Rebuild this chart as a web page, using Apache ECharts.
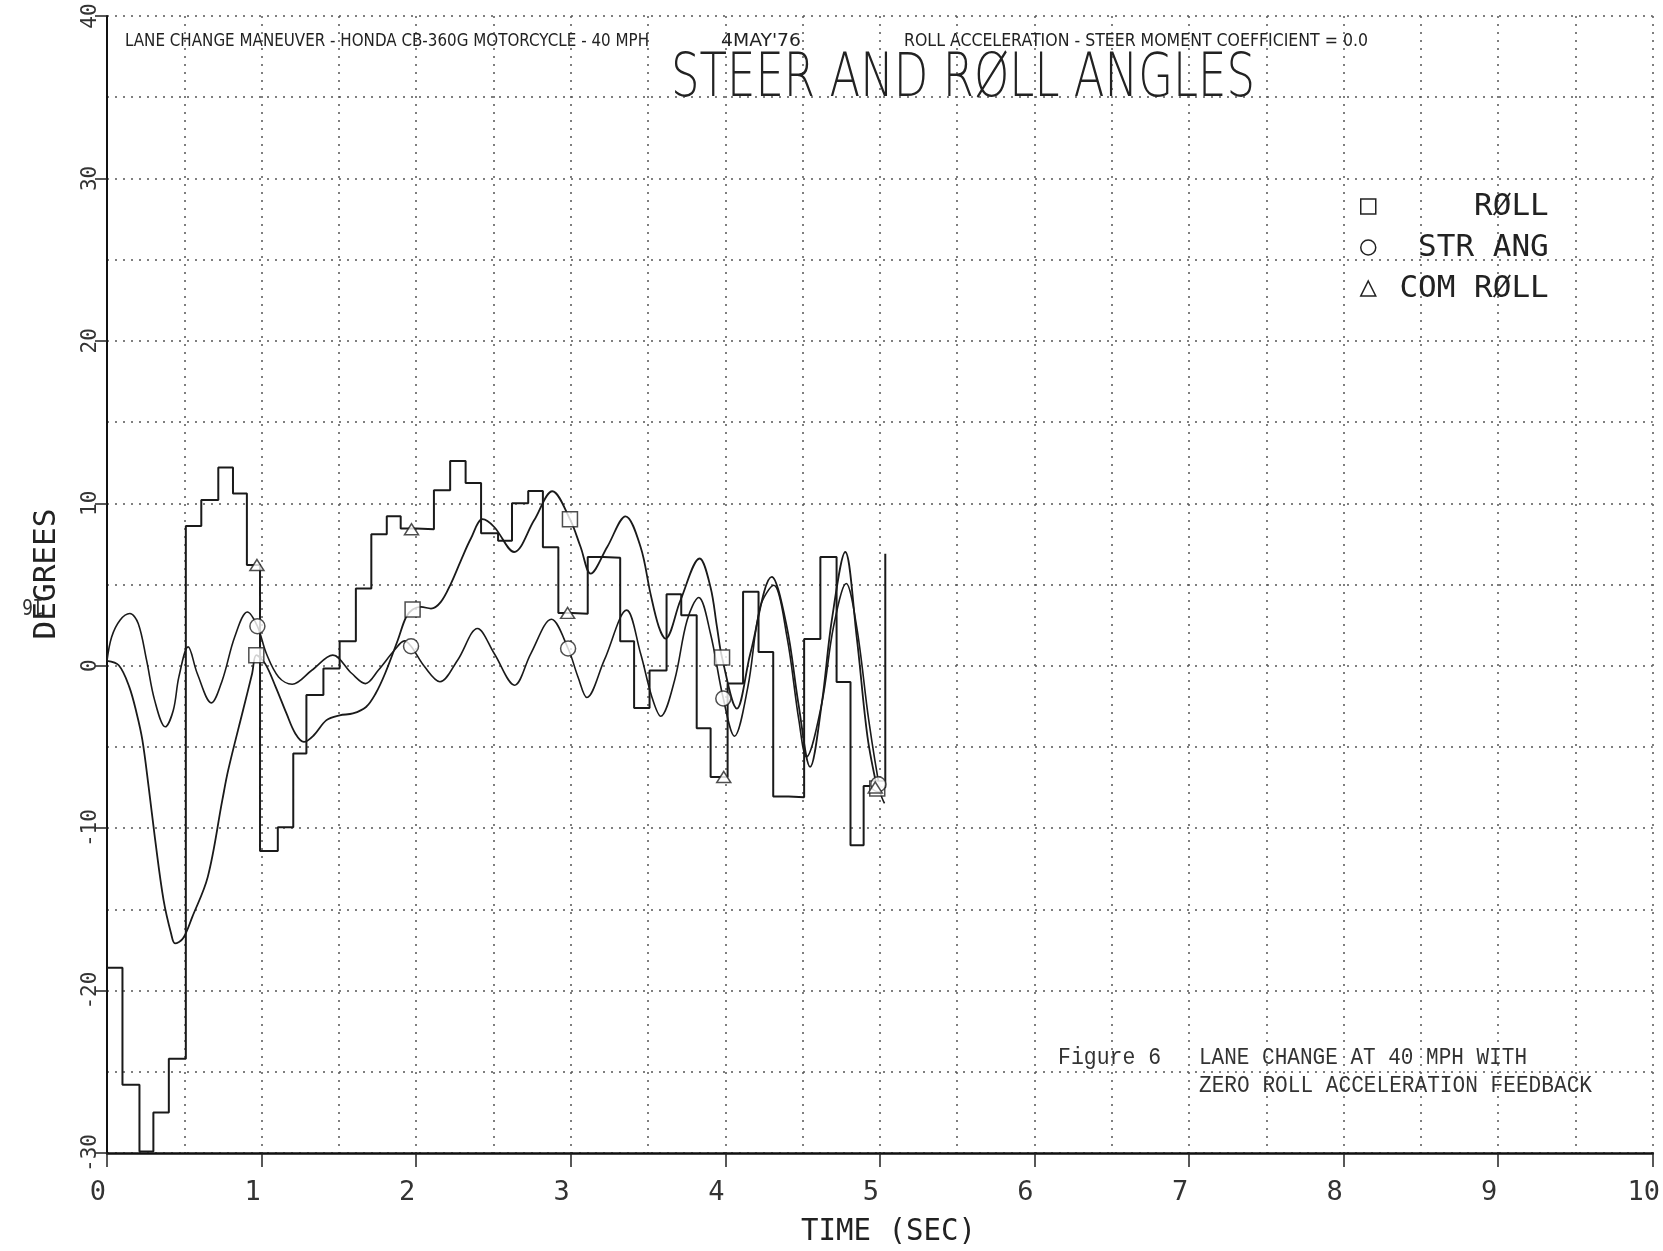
<!DOCTYPE html>
<html>
<head>
<meta charset="utf-8">
<title>Steer and Roll Angles</title>
<script src="https://cdn.jsdelivr.net/npm/echarts@6/dist/echarts.min.js"></script>
<style>
  html, body { margin: 0; padding: 0; background: #fff; }
  #chart { width: 1663px; height: 1251px; }
</style>
</head>
<body>
<div id="chart"></div>
<script>
// values: time in sec, angles in degrees
let roll_t = [0, 0.076, 0.144, 0.192, 0.229, 0.27, 0.31, 0.366, 0.415, 0.44, 0.491, 0.552, 0.652, 0.746, 0.784,
    0.88, 0.939, 0.966, 1.023, 1.091, 1.161, 1.218, 1.274, 1.338, 1.42, 1.505, 1.591, 1.676, 1.738, 1.799,
    1.881, 1.935, 1.977, 2.031, 2.096, 2.16, 2.225, 2.29, 2.354, 2.43, 2.505, 2.634, 2.763, 2.881, 2.995,
    3.064, 3.129, 3.236, 3.355, 3.452, 3.516, 3.57, 3.613, 3.71, 3.834, 3.904, 3.946, 3.979, 4.075, 4.162,
    4.301, 4.398, 4.473, 4.549, 4.624, 4.689, 4.776, 4.85, 4.92, 4.983];
let roll_v = [0.3, 0.03, -1.3, -2.94, -4.58, -7.5, -10.6, -14.43, -16.5, -17.09, -16.8, -15.46, -13.0, -8.28, -6.43,
    -2.74, -0.48, 0.65, 0.13, -1.3, -2.94, -4.17, -4.69, -4.28, -3.35, -3.05, -2.94, -2.54, -1.71, -0.48,
    1.57, 3.0, 3.46, 3.62, 3.52, 3.93, 5.06, 6.49, 7.83, 9.02, 8.54, 7.0, 8.95, 10.74, 9.02,
    7.31, 5.67, 7.31, 9.2, 7.31, 4.44, 2.39, 1.67, 4.03, 6.6, 4.85, 2.39, 0.5, -2.64, 0.75,
    5.47, 2.39, -2.33, -6.23, -2.33, 2.8, 7.0, 1.78, -4.38, -7.56];

let str_t = [0, 0.03, 0.084, 0.148, 0.202, 0.256, 0.308, 0.377, 0.429, 0.465, 0.525, 0.584, 0.675, 0.746, 0.826,
    0.908, 0.973, 1.031, 1.11, 1.198, 1.325, 1.461, 1.584, 1.672, 1.755, 1.859, 1.924, 1.967, 2.055, 2.154,
    2.268, 2.397, 2.505, 2.637, 2.742, 2.875, 2.983, 3.047, 3.105, 3.217, 3.362, 3.452, 3.525, 3.582, 3.672,
    3.753, 3.828, 3.904, 3.987, 4.059, 4.146, 4.226, 4.313, 4.399, 4.476, 4.525, 4.624, 4.7, 4.782, 4.85,
    4.928, 5.005, 5.03];
let str_v = [0.3, 1.77, 2.8, 3.21, 2.6, 0.34, -2.12, -3.76, -2.74, -0.69, 1.16, -0.48, -2.29, -0.89, 1.77,
    3.31, 2.43, 0.75, -0.69, -1.14, -0.28, 0.65, -0.48, -1.1, -0.28, 0.95, 1.53, 1.2, -0.07, -0.99,
    0.34, 2.29, 0.75, -1.2, 0.75, 2.86, 1.06, -0.69, -1.96, 0.34, 3.42, 0.75, -1.92, -3.11, -0.89,
    2.8, 4.2, 1.98, -2.02, -4.34, -1.3, 3.62, 4.95, 1.77, -3.35, -5.61, -2.33, 2.39, 5.06, 2.39,
    -3.35, -7.86, -8.48];

// commanded roll is held between samples
let com_t = [0, 0.1, 0.21, 0.3, 0.4, 0.51, 0.61, 0.72, 0.815, 0.905, 0.99, 1.105, 1.205, 1.29, 1.4,
    1.505, 1.61, 1.71, 1.81, 1.9, 2.0, 2.115, 2.22, 2.32, 2.42, 2.53, 2.62, 2.725, 2.82, 2.92,
    3.01, 3.11, 3.21, 3.32, 3.41, 3.51, 3.62, 3.715, 3.815, 3.905, 4.015, 4.115, 4.215, 4.31, 4.41,
    4.51, 4.615, 4.72, 4.81, 4.895, 4.965, 5.035];
let com_v = [-18.6, -25.8, -29.9, -27.5, -24.2, 8.6, 10.2, 12.2, 10.6, 6.2, -11.4, -9.95, -5.4, -1.8, -0.17,
    1.5, 4.75, 8.1, 9.2, 8.45, 8.4, 10.8, 12.6, 11.25, 8.15, 7.7, 10.0, 10.75, 7.3, 3.25,
    3.2, 6.7, 6.65, 1.5, -2.6, -0.3, 4.4, 3.1, -3.85, -6.85, -1.1, 4.55, 0.85, -8.05, -8.1,
    1.65, 6.7, -1.0, -11.05, -7.4, -7.5, 6.9];

// plotting symbols, about once a second
let roll_mark_t = [0.966, 1.977, 2.995, 3.979, 4.983];
let roll_mark_v = [0.65, 3.46, 9.02, 0.5, -7.56];
let str_mark_t = [0.973, 1.967, 2.983, 3.987, 4.99];
let str_mark_v = [2.43, 1.2, 1.06, -2.02, -7.3];
let com_mark_t = [0.97, 1.97, 2.98, 3.99, 4.97];
let com_mark_v = [6.2, 8.4, 3.25, -6.85, -7.5];

let x_ticks = [0, 1, 2, 3, 4, 5, 6, 7, 8, 9, 10];
let y_ticks = [-30, -20, -10, 0, 10, 20, 30, 40];

let names = ['RØLL', 'STR ANG', 'COM RØLL'];

function pairs(t, v) {
    return t.map((d, i) => [d, v[i]]);
}

// squeeze plotter lettering to the width it takes on the sheet
let measure = document.createElement('canvas').getContext('2d');
function fit(text, font, width) {
    measure.font = font;
    return width / measure.measureText(text).width;
}
function note(text, font, x, y, width, fill, align, rotation) {
    return {
        type: 'text', x: x, y: y, scaleX: fit(text, font, width), rotation: rotation || 0, z: 10,
        style: {text: text, font: font, fill: fill || '#222', align: align || 'left', verticalAlign: 'middle'}
    };
}

let mono = '"DejaVu Sans Mono", monospace';
let plotter = '"DejaVu Sans", sans-serif';
let typewriter = '"Liberation Mono", monospace';
let dotted = {color: '#555', width: 1.5, type: [2, 6]};
let ink = '#1a1a1a';
let hollow = {color: '#fff', borderColor: '#222', borderWidth: 1.5};

let myChart = echarts.init(document.getElementById('chart'));
let option = {
    animation: false,
    backgroundColor: '#fff',
    grid: {left: 107, right: 7, top: 16, bottom: 98},
    xAxis: {
        type: 'value',
        min: x_ticks[0],
        max: x_ticks[x_ticks.length - 1],
        interval: x_ticks[1] - x_ticks[0],
        axisLine: {show: true, onZero: false, lineStyle: {color: '#111', width: 2.5}},
        axisTick: {show: true, length: 14, lineStyle: {color: '#222', width: 1.5}},
        axisLabel: {margin: 26, fontFamily: mono, fontSize: 27, color: '#333', padding: [0, 18, 0, 0]},
        splitLine: {show: true, lineStyle: dotted},
        minorTick: {show: false, splitNumber: 2},
        minorSplitLine: {show: true, lineStyle: dotted}
    },
    yAxis: {
        type: 'value',
        min: y_ticks[0],
        max: y_ticks[y_ticks.length - 1],
        interval: y_ticks[1] - y_ticks[0],
        axisLine: {show: true, onZero: false, lineStyle: {color: '#111', width: 2}},
        axisTick: {show: true, length: 12, lineStyle: {color: '#222', width: 1.5}},
        axisLabel: {rotate: 90, margin: 6, fontFamily: mono, fontSize: 21, color: '#333'},
        splitLine: {show: true, lineStyle: dotted},
        minorTick: {show: false, splitNumber: 2},
        minorSplitLine: {show: true, lineStyle: dotted}
    },
    legend: {
        orient: 'vertical',
        left: 1355,
        top: 186,
        itemWidth: 15,
        itemHeight: 15,
        itemGap: 10,
        selectedMode: false,
        formatter: function (name) {
            return ' '.repeat(9 - name.length) + name;
        },
        textStyle: {fontFamily: mono, fontSize: 31, color: '#222', lineHeight: 30},
        data: [
            {name: names[0], icon: 'rect', itemStyle: hollow},
            {name: names[1], icon: 'circle', itemStyle: hollow},
            {name: names[2], icon: 'triangle', itemStyle: hollow}
        ]
    },
    graphic: [
        note('LANE CHANGE MANEUVER - HONDA CB-360G MOTORCYCLE - 40 MPH', '18px ' + plotter, 125, 41.5, 524),
        note("4MAY'76", '18px ' + plotter, 721, 41.5, 80),
        note('ROLL ACCELERATION - STEER MOMENT COEFFICIENT = 0.0', '18px ' + plotter, 904, 41.5, 464),
        note('STEER AND RØLL ANGLES', '200 60px ' + plotter, 671, 80, 584),
        note('Figure 6', '24px ' + typewriter, 1058, 1058, 103, '#333'),
        note('LANE CHANGE AT 40 MPH WITH', '24px ' + typewriter, 1199, 1058, 328, '#333'),
        note('ZERO ROLL ACCELERATION FEEDBACK', '24px ' + typewriter, 1199, 1086, 393, '#333'),
        note('TIME (SEC)', '31px ' + mono, 801, 1232, 175),
        note('DEGREES', '31px ' + mono, 47, 574, 131, '#222', 'center', Math.PI / 2),
        note('16', '21px ' + mono, 33, 604, 22, '#333', 'center', Math.PI)
    ],
    series: [
        {
            name: names[0], type: 'line', data: pairs(roll_t, roll_v), smooth: 0.35,
            showSymbol: false, color: ink, lineStyle: {color: ink, width: 1.8}, z: 3
        },
        {
            name: names[1], type: 'line', data: pairs(str_t, str_v), smooth: 0.35,
            showSymbol: false, color: ink, lineStyle: {color: ink, width: 1.6}, z: 3
        },
        {
            name: names[2], type: 'line', data: pairs(com_t, com_v), step: 'end',
            showSymbol: false, color: ink, lineStyle: {color: ink, width: 2}, z: 3
        },
        {
            name: 'roll marks', type: 'scatter', data: pairs(roll_mark_t, roll_mark_v),
            symbol: 'rect', symbolSize: 15, itemStyle: hollow, z: 5
        },
        {
            name: 'str marks', type: 'scatter', data: pairs(str_mark_t, str_mark_v),
            symbol: 'circle', symbolSize: 15, itemStyle: hollow, z: 5
        },
        {
            name: 'com marks', type: 'scatter', data: pairs(com_mark_t, com_mark_v),
            symbol: 'triangle', symbolSize: [14, 11], itemStyle: hollow, z: 5
        }
    ]
};
myChart.setOption(option);
</script>
</body>
</html>
